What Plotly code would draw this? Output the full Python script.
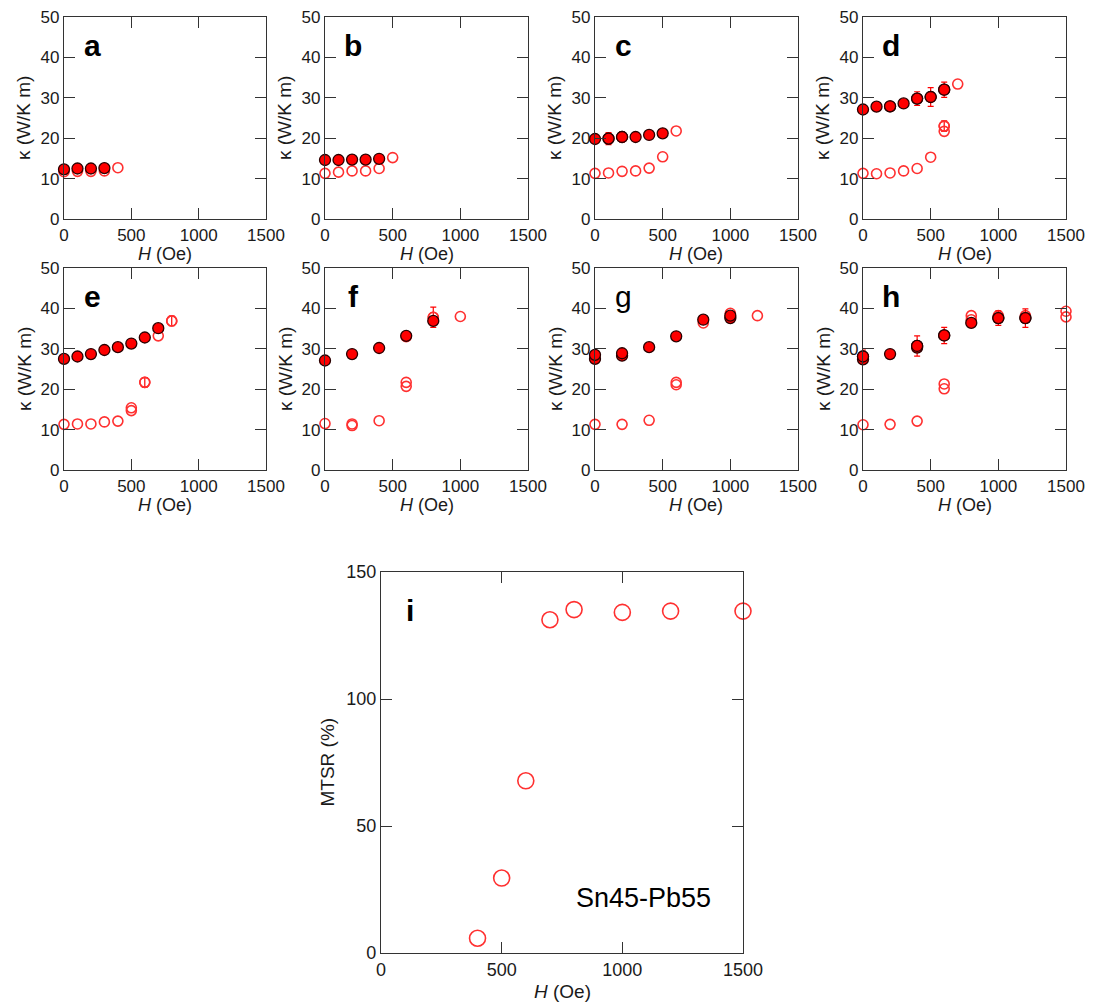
import plotly.graph_objects as go

W, H = 1094, 1005

# ---------------- data (kappa in W/K m, H in Oe) ----------------
# panel a
a_H_closed = [0, 100, 200, 300]
a_k_closed = [12.3, 12.5, 12.5, 12.6]
a_e_closed = [0, 0, 0, 0]
a_H_open = [0, 100, 200, 300, 400]
a_k_open = [11.7, 11.8, 11.8, 11.9, 12.7]
a_e_open = [0, 0, 0, 0, 0]
# panel b
b_H_closed = [0, 100, 200, 300, 400]
b_k_closed = [14.6, 14.6, 14.7, 14.7, 14.9]
b_e_closed = [0, 0, 0, 0, 0]
b_H_open = [0, 100, 200, 300, 400, 500]
b_k_open = [11.3, 11.6, 11.9, 11.9, 12.5, 15.2]
b_e_open = [0, 0, 0, 0, 0, 0]
# panel c
c_H_closed = [0, 100, 200, 300, 400, 500]
c_k_closed = [19.8, 19.9, 20.3, 20.3, 20.8, 21.2]
c_e_closed = [0, 1.5, 1.2, 0, 0, 0]
c_H_open = [0, 100, 200, 300, 400, 500, 600]
c_k_open = [11.3, 11.4, 11.8, 11.9, 12.6, 15.4, 21.8]
c_e_open = [0, 0, 0, 0, 0, 0, 0]
# panel d
d_H_closed = [0, 100, 200, 300, 400, 500, 600]
d_k_closed = [27.1, 27.8, 27.9, 28.6, 29.8, 30.2, 32.0]
d_e_closed = [0, 0, 1.0, 0, 1.7, 2.3, 1.9]
d_H_open = [0, 100, 200, 300, 400, 500, 600, 600, 700]
d_k_open = [11.3, 11.2, 11.4, 11.9, 12.5, 15.3, 23.0, 21.7, 33.4]
d_e_open = [0, 0, 0, 0, 0, 0, 1.3, 0, 0]
# panel e
e_H_closed = [0, 100, 200, 300, 400, 500, 600, 700]
e_k_closed = [27.5, 28.1, 28.7, 29.7, 30.4, 31.3, 32.8, 35.1]
e_e_closed = [0, 0, 0, 0, 0, 0, 0, 0]
e_H_open = [0, 100, 200, 300, 400, 500, 500, 600, 700, 800]
e_k_open = [11.3, 11.4, 11.4, 11.9, 12.1, 15.4, 14.7, 21.7, 33.2, 36.9]
e_e_open = [0, 0, 0, 0, 0, 0, 0, 1.2, 0, 1.2]
# panel f
f_H_closed = [0, 200, 400, 600, 800]
f_k_closed = [27.1, 28.7, 30.2, 33.2, 36.9]
f_e_closed = [0, 0, 0, 0, 0]
f_H_open = [0, 200, 200, 400, 600, 600, 600, 800, 1000]
f_k_open = [11.5, 11.4, 11.0, 12.2, 21.7, 20.7, 33.0, 37.8, 38.0]
f_e_open = [0, 0, 0, 0, 0, 0, 0, 2.5, 0]
# panel g
g_H_closed = [0, 0, 200, 200, 400, 600, 800, 1000, 1000]
g_k_closed = [27.5, 28.5, 28.3, 28.9, 30.4, 33.1, 37.2, 37.6, 38.2]
g_e_closed = [0, 0, 0, 0, 0, 0, 0, 0, 0]
g_H_open = [0, 200, 400, 600, 600, 800, 1000, 1200]
g_k_open = [11.3, 11.3, 12.3, 21.7, 21.1, 36.4, 38.8, 38.2]
g_e_open = [0, 0, 0, 0, 0, 0, 0, 0]
# panel h
h_H_closed = [0, 0, 200, 400, 400, 600, 800, 1000, 1200]
h_k_closed = [27.4, 28.1, 28.7, 30.3, 30.7, 33.3, 36.4, 37.6, 37.6]
h_e_closed = [0, 1.6, 0, 0, 2.5, 2.0, 0, 1.8, 2.3]
h_H_open = [0, 200, 400, 600, 600, 800, 800, 1000, 1200, 1500, 1500]
h_k_open = [11.2, 11.3, 12.1, 21.3, 20.1, 37.2, 38.2, 38.2, 38.2, 39.3, 37.9]
h_e_open = [0, 0, 0, 0, 0, 0, 0, 0, 0, 0, 0]
# panel i (MTSR, %)
i_H = [400, 500, 600, 700, 800, 1000, 1200, 1500]
i_mtsr = [5.8, 29.5, 67.8, 131.2, 135.2, 134.1, 134.6, 134.6]

x_ticks = [0, 500, 1000, 1500]
k_ticks = [0, 10, 20, 30, 40, 50]
m_ticks = [0, 50, 100, 150]

panels = [
    ("a", a_H_closed, a_k_closed, a_e_closed, a_H_open, a_k_open, a_e_open),
    ("b", b_H_closed, b_k_closed, b_e_closed, b_H_open, b_k_open, b_e_open),
    ("c", c_H_closed, c_k_closed, c_e_closed, c_H_open, c_k_open, c_e_open),
    ("d", d_H_closed, d_k_closed, d_e_closed, d_H_open, d_k_open, d_e_open),
    ("e", e_H_closed, e_k_closed, e_e_closed, e_H_open, e_k_open, e_e_open),
    ("f", f_H_closed, f_k_closed, f_e_closed, f_H_open, f_k_open, f_e_open),
    ("g", g_H_closed, g_k_closed, g_e_closed, g_H_open, g_k_open, g_e_open),
    ("h", h_H_closed, h_k_closed, h_e_closed, h_H_open, h_k_open, h_e_open),
]

# ---------------- layout geometry (pixels) ----------------
col_px = [(64, 266), (325, 528), (595, 798), (863, 1066)]
row_px = [(17, 219), (268, 470)]
i_px = ((381, 743), (572, 953))


def fx(x):
    return x / W


def fy(y):
    return 1 - y / H


RED = "#ff0000"
OPEN_RED = "#ff3030"
AX = "#333333"
TXT = "#1a1a1a"
FONT = "Liberation Sans, Arial, Helvetica, sans-serif"

OPEN_MARKER = dict(symbol="circle-open", size=10, color=OPEN_RED, line=dict(width=1.6, color=OPEN_RED))
CLOSED_MARKER = dict(symbol="circle", size=11, color=RED, line=dict(width=1.3, color="#2a0000"))

fig = go.Figure()
layout = dict(
    width=W, height=H, margin=dict(l=0, r=0, t=0, b=0, pad=0),
    paper_bgcolor="white", plot_bgcolor="white", showlegend=False,
    font=dict(family=FONT, color=TXT),
)
annotations = []


def axis_common(rng, tickvals, size):
    return dict(
        range=rng, tickvals=tickvals, ticks="inside", ticklen=11, tickwidth=1.4,
        tickcolor=AX, showline=True, linecolor=AX, linewidth=1.4, mirror="ticks",
        showgrid=False, zeroline=False, tickfont=dict(size=size, family=FONT, color=TXT),
        fixedrange=True, automargin=False,
    )


def add_points(xs, ys, es, marker, xa, ya):
    # error bars only for the points that carry one
    sel = [j for j, e in enumerate(es) if e]
    if sel:
        fig.add_trace(go.Scatter(
            x=[xs[j] for j in sel], y=[ys[j] for j in sel], mode="markers",
            xaxis=xa, yaxis=ya, cliponaxis=False, marker=marker,
            error_y=dict(type="data", array=[es[j] for j in sel], visible=True,
                         color=RED, thickness=1.2, width=3),
        ))
    fig.add_trace(go.Scatter(
        x=xs, y=ys, mode="markers", xaxis=xa, yaxis=ya, cliponaxis=False, marker=marker,
    ))


for n, (letter, Hc, kc, ec, Ho, ko, eo) in enumerate(panels):
    idx = n + 1
    r, c = divmod(n, 4)
    (x0, x1), (y0, y1) = col_px[c], row_px[r]
    xa = "x" if idx == 1 else f"x{idx}"
    ya = "y" if idx == 1 else f"y{idx}"
    xkey = "xaxis" if idx == 1 else f"xaxis{idx}"
    ykey = "yaxis" if idx == 1 else f"yaxis{idx}"
    layout[xkey] = dict(axis_common([0, 1500], x_ticks, 17), domain=[fx(x0), fx(x1)], anchor=ya)
    layout[ykey] = dict(axis_common([0, 50], k_ticks, 17), domain=[fy(y1), fy(y0)], anchor=xa)

    add_points(Ho, ko, eo, OPEN_MARKER, xa, ya)
    add_points(Hc, kc, ec, CLOSED_MARKER, xa, ya)

    # panel letter
    annotations.append(dict(
        text=(f"<b>{letter}</b>" if letter != "g" else letter),
        xref=f"{xa} domain", yref=f"{ya} domain",
        x=0.14, y=0.86, xanchor="center", yanchor="middle", showarrow=False,
        font=dict(size=30, family=FONT, color="black"),
    ))
    # axis titles
    annotations.append(dict(
        text="κ (W/K m)", xref="paper", yref="paper",
        x=fx(x0 - 40), y=fy((y0 + y1) / 2), textangle=-90,
        xanchor="center", yanchor="middle", showarrow=False,
        font=dict(size=19, family=FONT, color=TXT),
    ))
    annotations.append(dict(
        text="<i>H</i> (Oe)", xref="paper", yref="paper",
        x=fx((x0 + x1) / 2), y=fy(y1 + 35),
        xanchor="center", yanchor="middle", showarrow=False,
        font=dict(size=18, family=FONT, color=TXT),
    ))

# panel i
(ix0, ix1), (iy0, iy1) = i_px
layout["xaxis9"] = dict(axis_common([0, 1500], x_ticks, 18), domain=[fx(ix0), fx(ix1)], anchor="y9")
layout["yaxis9"] = dict(axis_common([0, 150], m_ticks, 18), domain=[fy(iy1), fy(iy0)], anchor="x9")
fig.add_trace(go.Scatter(
    x=i_H, y=i_mtsr, mode="markers", xaxis="x9", yaxis="y9", cliponaxis=False,
    marker=dict(symbol="circle-open", size=16, color=OPEN_RED, line=dict(width=1.6, color=OPEN_RED)),
))
annotations.append(dict(
    text="<b>i</b>", xref="x9 domain", yref="y9 domain", x=0.08, y=0.90,
    xanchor="center", yanchor="middle", showarrow=False,
    font=dict(size=30, family=FONT, color="black"),
))
annotations.append(dict(
    text="Sn45-Pb55", xref="paper", yref="paper", x=fx(643), y=fy(898),
    xanchor="center", yanchor="middle", showarrow=False,
    font=dict(size=27, family=FONT, color="black"),
))
annotations.append(dict(
    text="MTSR (%)", xref="paper", yref="paper", x=fx(ix0 - 54), y=fy((iy0 + iy1) / 2),
    textangle=-90, xanchor="center", yanchor="middle", showarrow=False,
    font=dict(size=19, family=FONT, color=TXT),
))
annotations.append(dict(
    text="<i>H</i> (Oe)", xref="paper", yref="paper", x=fx((ix0 + ix1) / 2), y=fy(iy1 + 38),
    xanchor="center", yanchor="middle", showarrow=False,
    font=dict(size=19, family=FONT, color=TXT),
))

layout["annotations"] = annotations
fig.update_layout(**layout)
fig.write_html("out.html", config={"displayModeBar": False},
               post_script="document.body.style.margin='0px';")
